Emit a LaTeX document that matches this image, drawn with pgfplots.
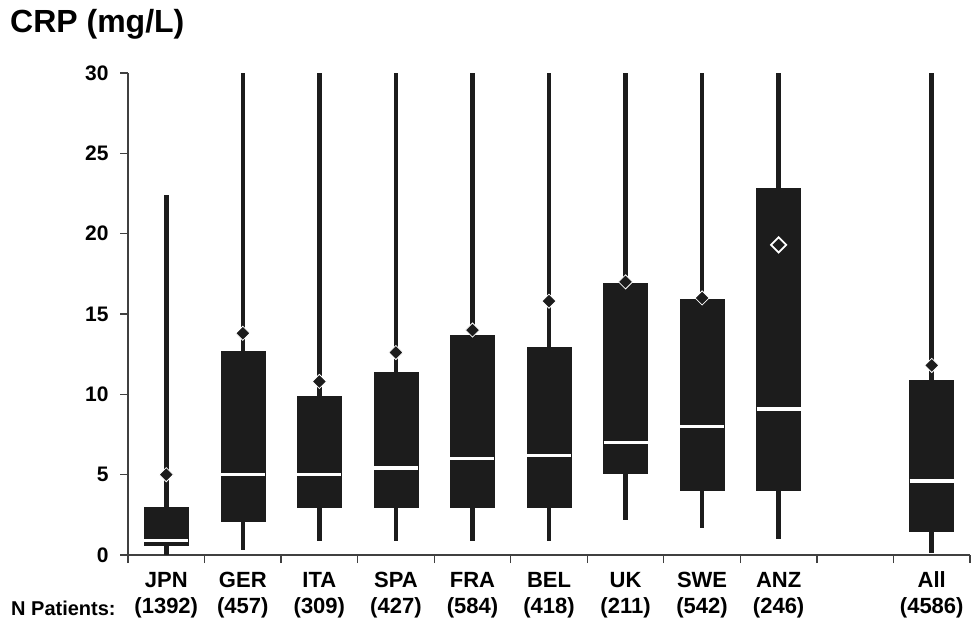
\documentclass[border=0pt]{standalone}
\usepackage{fontspec}
\setmainfont{Liberation Sans}
\usepackage{pgfplots}
\pgfplotsset{compat=1.18}
\usepgfplotslibrary{statistics}
\definecolor{boxc}{HTML}{1C1C1C}
\definecolor{axc}{HTML}{404040}
\begin{document}
\begin{tikzpicture}
\useasboundingbox (0pt,0pt) rectangle (971pt,621pt);
\node[anchor=base west, font=\fontsize{32}{36}\selectfont\bfseries, inner sep=0pt] at (10pt,588pt) {CRP (mg/L)};
\node[anchor=base west, font=\fontsize{20}{22}\selectfont\bfseries, inner sep=0pt] at (11pt,6pt) {N Patients:};
\begin{axis}[
  at={(128pt,66pt)}, anchor=south west,
  scale only axis, width=842pt, height=482pt,
  xmin=-0.5, xmax=10.5, ymin=0, ymax=30,
  axis lines=left,
  axis line style={axc, line width=1.4pt, -},
  every tick/.style={axc, line width=1.2pt},
  tick align=outside,
  major tick length=8pt,
  ytick={0,5,...,30},
  xtick={-0.5,0.5,...,10.5},
  xticklabels={},
  extra x ticks={0,1,2,3,4,5,6,7,8,10},
  extra x tick labels={{\strut JPN\\\strut(1392)},{\strut GER\\\strut(457)},{\strut ITA\\\strut(309)},{\strut SPA\\\strut(427)},{\strut FRA\\\strut(584)},{\strut BEL\\\strut(418)},{\strut UK\\\strut(211)},{\strut SWE\\\strut(542)},{\strut ANZ\\\strut(246)},{\strut All\\\strut(4586)}},
  extra x tick style={major tick length=0pt, xticklabel style={align=center, font=\fontsize{22}{26}\selectfont\bfseries, yshift=-11pt}},
  yticklabel style={font=\fontsize{21}{24}\selectfont\bfseries, xshift=-8pt},
  /pgf/number format/assume math mode=true,
  boxplot/draw direction=y,
  boxplot/box extend=0.575,
  boxplot/whisker extend=0,
  boxplot/every box/.style={fill=boxc, draw=boxc, line width=0.6pt},
  boxplot/every whisker/.style={boxc, line width=4.5pt},
  boxplot/every median/.style={white, line width=3.6pt},
  clip=false,
]
\addplot[boxplot prepared={draw position=0, lower whisker=0.0, lower quartile=0.6, median=0.9, upper quartile=3.0, upper whisker=22.4}] coordinates {};
\addplot[boxplot prepared={draw position=1, lower whisker=0.3, lower quartile=2.1, median=5.0, upper quartile=12.7, upper whisker=30}] coordinates {};
\addplot[boxplot prepared={draw position=2, lower whisker=0.9, lower quartile=3.0, median=5.0, upper quartile=9.9, upper whisker=30}] coordinates {};
\addplot[boxplot prepared={draw position=3, lower whisker=0.9, lower quartile=3.0, median=5.4, upper quartile=11.4, upper whisker=30}] coordinates {};
\addplot[boxplot prepared={draw position=4, lower whisker=0.9, lower quartile=3.0, median=6.0, upper quartile=13.7, upper whisker=30}] coordinates {};
\addplot[boxplot prepared={draw position=5, lower whisker=0.9, lower quartile=3.0, median=6.2, upper quartile=12.9, upper whisker=30}] coordinates {};
\addplot[boxplot prepared={draw position=6, lower whisker=2.2, lower quartile=5.1, median=7.0, upper quartile=16.9, upper whisker=30}] coordinates {};
\addplot[boxplot prepared={draw position=7, lower whisker=1.7, lower quartile=4.0, median=8.0, upper quartile=15.9, upper whisker=30}] coordinates {};
\addplot[boxplot prepared={draw position=8, lower whisker=1.0, lower quartile=4.0, median=9.1, upper quartile=22.8, upper whisker=30}] coordinates {};
\addplot[boxplot prepared={draw position=10, lower whisker=0.1, lower quartile=1.5, median=4.6, upper quartile=10.9, upper whisker=30}] coordinates {};
% means
\addplot[only marks, mark=square*, mark size=5pt, mark options={rotate=45, fill=boxc, draw=white, line width=0.8pt}] coordinates {
(0,5.0) (1,13.8) (2,10.8) (3,12.6) (4,14.0) (5,15.8) (6,17.0) (7,16.0) (10,11.8)
};
\addplot[only marks, mark=square*, mark size=5.4pt, mark options={rotate=45, fill=boxc, draw=white, line width=1.7pt}] coordinates {
(8,19.3)
};
\end{axis}
\end{tikzpicture}
\end{document}
